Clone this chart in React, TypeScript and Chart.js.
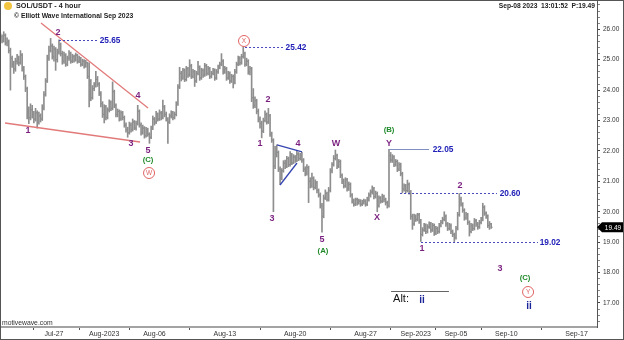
import { useEffect, useRef } from 'react';
import { Chart, registerables } from 'chart.js';

Chart.register(...registerables);

const FONT = '"Liberation Sans", Arial, sans-serif';

// ---- time axis (days counted from Jul-27 00:00) ----
const firstBarDay = -5 - 1 / 3; // Jul-21 16:00
const barHours = 4;
const xMinDay = -5.37;
const xMaxDay = 54.03;
const xTickDays = [-4, 0, 5, 10, 17, 24, 31, 36, 40, 45, 52];
const xTickLabels = ['', 'Jul-27', 'Aug-2023', 'Aug-06', 'Aug-13', 'Aug-20', 'Aug-27', 'Sep-2023', 'Sep-05', 'Sep-10', 'Sep-17'];

// ---- price axis ----
const yMinPrice = 16.21;
const yMaxPrice = 26.963;
const yMajorTicks = [17, 18, 19, 20, 21, 22, 23, 24, 25, 26];

// ---- SOL/USDT 4-hour OHLC ----
const opens = [
  25.70,25.75,25.62,25.80,25.55,25.60,25.30,25.05,24.85,24.70,
  24.95,25.05,24.90,25.15,24.70,24.45,24.05,23.30,23.10,23.35,
  23.20,23.05,23.25,22.95,23.15,23.05,23.40,23.85,24.30,25.05,
  25.30,25.45,25.10,25.35,25.00,25.25,25.50,25.20,24.95,25.15,
  24.85,25.05,25.20,24.95,25.10,25.00,25.15,24.95,25.05,24.85,
  24.95,24.80,24.90,24.45,24.30,23.75,24.05,24.15,24.35,24.20,
  23.90,23.55,23.20,23.45,23.10,23.35,23.60,23.40,23.95,23.50,
  23.20,23.30,23.05,23.25,23.10,22.85,22.70,22.60,22.85,22.70,
  22.95,22.75,22.90,23.30,22.85,22.60,22.75,22.50,22.70,22.55,
  22.45,22.75,23.05,22.95,23.20,23.05,23.25,23.10,23.45,23.20,
  23.05,22.95,23.15,23.25,23.10,23.20,23.55,24.10,24.55,24.40,
  24.65,24.35,24.70,24.50,24.80,24.45,24.60,24.30,24.55,24.75,
  24.40,24.65,24.50,24.80,24.55,24.70,24.45,24.55,24.65,24.40,
  24.60,24.75,24.85,24.95,24.60,24.70,24.40,24.55,24.30,24.45,
  24.25,24.60,24.85,25.05,24.90,25.10,25.20,24.85,24.95,24.60,
  24.70,23.75,23.50,23.65,23.30,23.05,22.90,22.65,23.00,23.20,
  22.95,23.15,22.55,22.35,21.50,21.90,21.95,21.40,21.10,21.35,
  21.60,21.50,21.75,21.55,21.85,21.60,21.80,21.70,21.90,21.75,
  21.85,21.70,21.40,21.25,21.45,21.00,20.85,21.10,20.80,20.95,
  20.70,20.55,20.20,19.85,20.45,20.60,20.40,20.70,21.35,21.55,
  21.75,21.85,21.50,21.65,21.20,21.00,20.85,21.05,20.75,20.90,
  20.55,20.35,20.25,20.40,20.30,20.35,20.25,20.30,20.35,20.25,
  20.40,20.55,20.65,20.75,20.50,20.60,20.20,20.45,20.35,20.50,
  20.40,20.30,20.20,21.85,21.70,21.80,21.55,21.65,21.40,21.55,
  21.25,20.75,20.85,20.70,20.90,20.65,19.85,19.60,19.85,19.75,
  19.90,19.70,19.25,19.40,19.55,19.35,19.50,19.60,19.40,19.55,
  19.30,19.45,19.35,19.55,19.65,19.75,19.85,19.60,19.45,19.55,
  19.35,19.25,19.15,19.45,19.90,20.40,20.25,20.05,19.80,19.90,
  19.65,19.35,19.55,19.45,19.70,19.60,19.50,19.65,19.75,20.15,
  19.95,19.85,19.55,19.60,
];
const highs = [
  25.88,25.82,25.92,25.85,25.72,25.65,25.38,25.12,24.95,25.05,
  25.18,25.12,25.30,25.20,24.78,24.50,24.10,23.45,23.55,23.50,
  23.30,23.40,23.32,23.28,23.22,23.52,23.95,24.38,25.15,25.45,
  25.70,25.52,25.45,25.40,25.35,25.65,25.55,25.28,25.25,25.20,
  25.12,25.30,25.25,25.18,25.15,25.22,25.18,25.12,25.08,25.02,
  25.00,24.98,24.92,24.90,24.35,24.15,24.25,24.62,24.45,24.25,
  23.95,23.62,23.52,23.50,23.42,23.68,23.65,24.27,24.00,23.55,
  23.38,23.35,23.32,23.30,23.15,22.92,22.78,22.95,22.92,23.05,
  23.00,22.98,23.50,23.35,22.92,22.85,22.80,22.78,22.75,22.60,
  22.82,23.15,23.10,23.30,23.25,23.35,23.30,23.67,23.50,23.28,
  23.10,23.22,23.32,23.30,23.28,23.62,24.18,24.75,24.62,24.72,
  24.70,24.78,24.75,25.00,24.85,24.68,24.65,24.62,24.95,24.80,
  24.72,24.70,24.88,24.85,24.78,24.75,24.62,24.72,24.70,24.68,
  24.82,24.92,25.20,25.00,24.78,24.75,24.62,24.60,24.52,24.50,
  24.68,24.92,25.12,25.10,25.18,25.42,25.25,25.05,25.00,24.78,
  24.75,24.05,23.78,23.70,23.38,23.12,22.98,23.08,23.32,23.25,
  23.40,23.20,22.62,22.40,22.15,22.20,22.00,21.48,21.42,21.68,
  21.70,21.82,21.80,21.98,21.92,21.88,21.85,22.00,21.95,21.92,
  21.95,21.75,21.48,21.55,21.50,21.12,21.27,21.15,21.05,21.00,
  20.75,20.62,20.28,20.55,20.72,20.65,20.80,21.42,21.62,21.85,
  22.03,21.90,21.72,21.70,21.25,21.08,21.12,21.10,20.98,20.95,
  20.60,20.42,20.45,20.45,20.42,20.40,20.38,20.42,20.40,20.48,
  20.62,20.72,20.85,20.80,20.68,20.65,20.52,20.50,20.58,20.55,
  20.45,20.35,22.05,21.95,21.88,21.85,21.72,21.70,21.62,21.60,
  21.30,20.92,20.90,21.04,20.95,20.70,19.92,19.92,19.90,19.95,
  19.95,19.75,19.48,19.62,19.60,19.58,19.67,19.65,19.62,19.60,
  19.52,19.50,19.62,19.72,19.82,20.00,19.90,19.65,19.62,19.60,
  19.40,19.30,19.52,19.98,20.60,20.48,20.30,20.10,19.98,19.95,
  19.70,19.62,19.60,19.78,19.75,19.65,19.72,19.82,20.28,20.20,
  20.00,19.90,19.68,19.62,
];
const lows = [
  25.62,25.55,25.58,25.48,25.45,25.22,24.00,24.75,24.55,24.62,
  24.85,24.80,24.85,24.62,24.35,23.95,23.05,22.90,23.02,23.08,
  22.92,22.98,22.75,22.88,22.95,23.00,23.35,23.80,24.25,24.98,
  25.25,25.02,24.95,24.65,24.92,25.18,25.12,24.85,24.88,24.78,
  24.80,24.98,24.88,24.90,24.92,24.95,24.88,24.90,24.78,24.80,
  24.72,24.75,24.38,23.45,23.65,23.70,23.98,24.10,24.12,23.82,
  23.45,23.10,22.92,23.02,23.05,23.28,23.32,23.35,23.42,23.12,
  23.12,22.98,23.00,23.02,22.78,22.62,22.45,22.55,22.62,22.65,
  22.70,22.68,22.85,22.78,22.52,22.55,22.42,22.45,22.48,22.25,
  22.40,22.70,22.85,22.90,22.98,23.00,23.02,23.05,23.12,22.98,
  22.25,22.90,23.08,23.02,23.05,23.15,23.50,24.05,24.30,24.35,
  24.28,24.30,24.42,24.45,24.38,24.40,24.12,24.25,24.50,24.32,
  24.35,24.42,24.45,24.48,24.50,24.38,24.40,24.50,24.32,24.35,
  24.55,24.70,24.80,24.52,24.55,24.32,24.35,24.22,24.25,24.07,
  24.20,24.55,24.80,24.82,24.85,25.05,24.78,24.80,24.52,24.50,
  23.62,23.40,23.42,23.22,22.95,22.75,22.43,22.60,22.95,22.88,
  22.90,22.48,22.28,20.00,21.42,21.80,21.32,20.90,21.05,21.30,
  21.42,21.45,21.48,21.50,21.55,21.58,21.62,21.65,21.68,21.70,
  21.62,21.32,21.18,21.20,20.30,20.78,20.80,20.72,20.75,20.62,
  20.48,20.12,19.33,19.80,20.40,20.35,20.35,20.65,21.28,21.50,
  21.70,21.42,21.45,21.12,20.92,20.78,20.80,20.68,20.70,20.48,
  20.28,20.18,20.20,20.22,20.25,20.18,20.20,20.25,20.18,20.20,
  20.35,20.48,20.58,20.42,20.45,20.00,20.15,20.28,20.30,20.32,
  20.22,20.12,20.15,21.62,21.62,21.48,21.50,21.32,21.35,21.18,
  20.62,20.68,20.62,20.65,20.58,19.75,19.42,19.55,19.68,19.70,
  19.62,19.02,19.20,19.35,19.28,19.30,19.45,19.32,19.35,19.22,
  19.25,19.28,19.30,19.50,19.60,19.70,19.52,19.38,19.40,19.28,
  19.18,19.02,19.10,19.40,19.85,20.18,19.98,19.72,19.75,19.58,
  19.20,19.30,19.38,19.40,19.52,19.42,19.45,19.60,19.70,19.88,
  19.78,19.48,19.42,19.45,
];
const closes = [
  25.75,25.62,25.80,25.55,25.60,25.30,25.05,24.85,24.70,24.95,
  25.05,24.90,25.15,24.70,24.45,24.05,23.30,23.10,23.35,23.20,
  23.05,23.25,22.95,23.15,23.05,23.40,23.85,24.30,25.05,25.30,
  25.45,25.10,25.35,25.00,25.25,25.50,25.20,24.95,25.15,24.85,
  25.05,25.20,24.95,25.10,25.00,25.15,24.95,25.05,24.85,24.95,
  24.80,24.90,24.45,24.30,23.75,24.05,24.15,24.35,24.20,23.90,
  23.55,23.20,23.45,23.10,23.35,23.60,23.40,23.95,23.50,23.20,
  23.30,23.05,23.25,23.10,22.85,22.70,22.60,22.85,22.70,22.95,
  22.75,22.90,23.30,22.85,22.60,22.75,22.50,22.70,22.55,22.45,
  22.75,23.05,22.95,23.20,23.05,23.25,23.10,23.45,23.20,23.05,
  22.95,23.15,23.25,23.10,23.20,23.55,24.10,24.55,24.40,24.65,
  24.35,24.70,24.50,24.80,24.45,24.60,24.30,24.55,24.75,24.40,
  24.65,24.50,24.80,24.55,24.70,24.45,24.55,24.65,24.40,24.60,
  24.75,24.85,24.95,24.60,24.70,24.40,24.55,24.30,24.45,24.25,
  24.60,24.85,25.05,24.90,25.10,25.20,24.85,24.95,24.60,24.70,
  23.75,23.50,23.65,23.30,23.05,22.90,22.65,23.00,23.20,22.95,
  23.15,22.55,22.35,21.50,21.90,21.95,21.40,21.10,21.35,21.60,
  21.50,21.75,21.55,21.85,21.60,21.80,21.70,21.90,21.75,21.85,
  21.70,21.40,21.25,21.45,21.00,20.85,21.10,20.80,20.95,20.70,
  20.55,20.20,19.85,20.45,20.60,20.40,20.70,21.35,21.55,21.75,
  21.85,21.50,21.65,21.20,21.00,20.85,21.05,20.75,20.90,20.55,
  20.35,20.25,20.40,20.30,20.35,20.25,20.30,20.35,20.25,20.40,
  20.55,20.65,20.75,20.50,20.60,20.20,20.45,20.35,20.50,20.40,
  20.30,20.20,21.85,21.70,21.80,21.55,21.65,21.40,21.55,21.25,
  20.75,20.85,20.70,20.90,20.65,19.85,19.60,19.85,19.75,19.90,
  19.70,19.25,19.40,19.55,19.35,19.50,19.60,19.40,19.55,19.30,
  19.45,19.35,19.55,19.65,19.75,19.85,19.60,19.45,19.55,19.35,
  19.25,19.15,19.45,19.90,20.40,20.25,20.05,19.80,19.90,19.65,
  19.35,19.55,19.45,19.70,19.60,19.50,19.65,19.75,20.15,19.95,
  19.85,19.55,19.60,19.49,
];

// ---- Elliott wave annotations (day, price) ----
const purpleLabels = [
  { text: '1', day: -2.58, price: 22.655 },
  { text: '2', day: 0.4, price: 25.878 },
  { text: '3', day: 7.66, price: 22.228 },
  { text: '4', day: 8.36, price: 23.806 },
  { text: '5', day: 9.36, price: 21.998 },
  { text: '1', day: 20.5, price: 22.228 },
  { text: '2', day: 21.3, price: 23.675 },
  { text: '3', day: 21.69, price: 19.761 },
  { text: '4', day: 24.28, price: 22.228 },
  { text: '5', day: 26.67, price: 19.103 },
  { text: 'W', day: 28.06, price: 22.26 },
  { text: 'X', day: 32.14, price: 19.794 },
  { text: 'Y', day: 33.34, price: 22.26 },
  { text: '1', day: 36.62, price: 18.775 },
  { text: '2', day: 40.4, price: 20.847 },
  { text: '3', day: 44.38, price: 18.117 },
];
const greenLabels = [
  { text: '(C)', day: 9.36, price: 21.7 },
  { text: '(A)', day: 26.77, price: 18.709 },
  { text: '(B)', day: 33.34, price: 22.688 },
  { text: '(C)', day: 46.87, price: 17.821 },
];
const circleLabels = [
  { text: 'W', day: 9.46, price: 21.274 },
  { text: 'X', day: 18.91, price: 25.615 },
  { text: 'Y', day: 47.17, price: 17.361 },
];
const blueLabels = [
  { text: 'ii', day: 47.27, price: 16.9 },
  { text: 'ii', day: 36.62, price: 17.098 },
];
const priceLevels = [
  { level: 25.65, from: 0.5, to: 4.28, labelDay: 5.58, dashed: true },
  { level: 25.42, from: 19.01, to: 22.79, labelDay: 24.08, dashed: true },
  { level: 22.05, from: 33.34, to: 37.32, labelDay: 38.71, dashed: false },
  { level: 20.6, from: 34.43, to: 44.08, labelDay: 45.38, dashed: true },
  { level: 19.02, from: 36.52, to: 48.16, labelDay: 49.36, dashed: true },
];
const redTrendLines = [
  [[-1.29, 26.207], [9.36, 23.411]],
  [[-4.87, 22.918], [8.56, 22.293]],
];
const blueTriangleLines = [
  [[22.19, 22.195], [24.68, 21.965]],
  [[22.49, 20.879], [24.18, 21.603]],
];
const altLabel = { text: 'Alt:', day: 34.53, price: 17.13, lineFrom: 33.54, lineTo: 39.3, linePrice: 17.394 };

const barDays = closes.map((_, i) => firstBarDay + (i * barHours) / 24);
const yTickValues: number[] = [];
for (let k = 82; k <= 134; k++) yTickValues.push(k / 5);

const BAR_COLOR = '#8e8e8e';
const PURPLE = '#7a1f7f';
const GREEN = '#1f8a2a';
const BLUE = '#2222b8';
const RED = '#e06262';

const ewPlugin = {
  id: 'ewDraw',
  afterDatasetsDraw(chart: any) {
    const { ctx, chartArea, scales } = chart;
    const x = scales.x;
    const y = scales.y;
    const px = (d: number) => x.getPixelForValue(d);
    const py = (p: number) => y.getPixelForValue(p);
    ctx.save();
    ctx.beginPath();
    ctx.rect(chartArea.left, chartArea.top, chartArea.right - chartArea.left, chartArea.bottom - chartArea.top);
    ctx.clip();

    // open / close ticks
    ctx.fillStyle = BAR_COLOR;
    for (let i = 0; i < closes.length; i++) {
      const cx = px(barDays[i]);
      ctx.fillRect(cx - 1.5, py(opens[i]) - 0.5, 1.2, 1);
      ctx.fillRect(cx + 0.3, py(closes[i]) - 0.5, 1.2, 1);
    }

    // trend lines
    const drawSeg = (seg: number[][], color: string, w: number) => {
      ctx.strokeStyle = color;
      ctx.lineWidth = w;
      ctx.setLineDash([]);
      ctx.beginPath();
      ctx.moveTo(px(seg[0][0]), py(seg[0][1]));
      ctx.lineTo(px(seg[1][0]), py(seg[1][1]));
      ctx.stroke();
    };
    redTrendLines.forEach((s) => drawSeg(s, '#e27a7a', 1.3));
    blueTriangleLines.forEach((s) => drawSeg(s, '#3545b0', 1.3));

    // price levels
    ctx.textAlign = 'center';
    ctx.textBaseline = 'middle';
    priceLevels.forEach((lv) => {
      const yy = Math.round(py(lv.level)) + 0.5;
      ctx.strokeStyle = lv.dashed ? '#4a4ac0' : '#7f8fc0';
      ctx.lineWidth = 1;
      ctx.setLineDash(lv.dashed ? [2, 2] : []);
      ctx.beginPath();
      ctx.moveTo(px(lv.from), yy);
      ctx.lineTo(px(lv.to), yy);
      ctx.stroke();
      ctx.setLineDash([]);
      ctx.fillStyle = BLUE;
      ctx.font = `bold 8.3px ${FONT}`;
      ctx.fillText(lv.level.toFixed(2), px(lv.labelDay), yy);
    });

    // wave labels
    ctx.font = `bold 9px ${FONT}`;
    ctx.fillStyle = PURPLE;
    purpleLabels.forEach((l) => ctx.fillText(l.text, px(l.day), py(l.price)));
    ctx.font = `bold 7.8px ${FONT}`;
    ctx.fillStyle = GREEN;
    greenLabels.forEach((l) => ctx.fillText(l.text, px(l.day), py(l.price)));
    circleLabels.forEach((l) => {
      const cx = px(l.day);
      const cy = py(l.price);
      ctx.strokeStyle = RED;
      ctx.lineWidth = 1;
      ctx.beginPath();
      ctx.arc(cx, cy, 5.5, 0, Math.PI * 2);
      ctx.stroke();
      ctx.fillStyle = RED;
      ctx.font = `6.5px ${FONT}`;
      ctx.fillText(l.text, cx, cy + 0.5);
    });
    ctx.font = `bold 10px ${FONT}`;
    ctx.fillStyle = '#1a2499';
    blueLabels.forEach((l) => ctx.fillText(l.text, px(l.day), py(l.price)));

    // Alt
    ctx.strokeStyle = '#666';
    ctx.lineWidth = 1;
    ctx.beginPath();
    const ay = Math.round(py(altLabel.linePrice)) + 0.5;
    ctx.moveTo(px(altLabel.lineFrom), ay);
    ctx.lineTo(px(altLabel.lineTo), ay);
    ctx.stroke();
    ctx.fillStyle = '#111';
    ctx.font = `11px ${FONT}`;
    ctx.fillText(altLabel.text, px(altLabel.day), py(altLabel.price));

    ctx.restore();
  },
  afterDraw(chart: any) {
    const { ctx, scales } = chart;
    const y = scales.y;
    ctx.save();
    // header texts
    ctx.fillStyle = '#f3c440';
    ctx.beginPath();
    ctx.arc(8, 6, 4, 0, Math.PI * 2);
    ctx.fill();
    ctx.fillStyle = '#222';
    ctx.textBaseline = 'middle';
    ctx.textAlign = 'left';
    ctx.font = `bold 7.2px ${FONT}`;
    ctx.fillText('SOL/USDT - 4 hour', 16, 6.5);
    ctx.font = `bold 6.8px ${FONT}`;
    ctx.fillText('\u00A9 Elliott Wave International Sep 2023', 14, 16);
    const last = closes[closes.length - 1];
    ctx.textAlign = 'right';
    ctx.font = `bold 6.7px ${FONT}`;
    ctx.fillText(`Sep-08 2023  13:01:52  P:${last.toFixed(2)}`, 595, 6);
    ctx.textAlign = 'left';
    ctx.font = `6.8px ${FONT}`;
    ctx.fillStyle = '#333';
    ctx.fillText('motivewave.com', 2, 323);

    // last price tag
    const ty = y.getPixelForValue(last);
    const ax = chart.chartArea.right;
    ctx.fillStyle = '#000';
    ctx.beginPath();
    ctx.moveTo(ax, ty);
    ctx.lineTo(ax + 5, ty - 5);
    ctx.lineTo(624, ty - 5);
    ctx.lineTo(624, ty + 5);
    ctx.lineTo(ax + 5, ty + 5);
    ctx.closePath();
    ctx.fill();
    ctx.fillStyle = '#fff';
    ctx.textAlign = 'center';
    ctx.font = `6.5px ${FONT}`;
    ctx.fillText(last.toFixed(2), ax + 16, ty + 0.5);

    // frame
    ctx.strokeStyle = '#555';
    ctx.lineWidth = 1;
    ctx.strokeRect(0.5, 0.5, 623, 339);
    ctx.restore();
  },
};

export default function App() {
  const canvasRef = useRef<HTMLCanvasElement | null>(null);

  useEffect(() => {
    const canvas = canvasRef.current;
    if (!canvas) return;
    const chart = new Chart(canvas, {
      type: 'bar',
      data: {
        datasets: [
          {
            data: barDays.map((d, i) => ({ x: d, y: [lows[i], highs[i]] })) as any,
            backgroundColor: BAR_COLOR,
            borderWidth: 0,
            barThickness: 1,
          },
        ],
      },
      options: {
        animation: false,
        responsive: false,
        maintainAspectRatio: false,
        devicePixelRatio: 1,
        layout: { padding: 0 },
        events: [],
        plugins: {
          legend: { display: false },
          tooltip: { enabled: false },
          title: { display: false },
        },
        scales: {
          x: {
            type: 'linear',
            min: xMinDay,
            max: xMaxDay,
            offset: false,
            afterBuildTicks: (s: any) => {
              s.ticks = xTickDays.map((v) => ({ value: v }));
            },
            afterFit: (s: any) => {
              s.height = 13;
              s.paddingLeft = 0;
              s.paddingRight = 0;
            },
            ticks: {
              autoSkip: false,
              maxRotation: 0,
              padding: 0,
              color: '#333',
              font: { size: 7, family: FONT },
              callback: (v: any) => {
                const k = xTickDays.indexOf(Number(v));
                return k >= 0 ? xTickLabels[k] : '';
              },
            },
            grid: { drawOnChartArea: false, drawTicks: true, tickLength: 3, tickColor: '#555' },
            border: { color: '#a3a3a3', width: 2 },
          },
          y: {
            type: 'linear',
            position: 'right',
            min: yMinPrice,
            max: yMaxPrice,
            afterBuildTicks: (s: any) => {
              s.ticks = yTickValues.map((v) => ({ value: v }));
            },
            afterFit: (s: any) => {
              s.width = 27;
              s.paddingTop = 0;
              s.paddingBottom = 0;
            },
            ticks: {
              autoSkip: false,
              padding: 3,
              color: '#333',
              font: { size: 6.5, family: FONT },
              callback: (v: any) => (yMajorTicks.includes(Number(v)) ? Number(v).toFixed(2) : ''),
            },
            grid: {
              drawOnChartArea: false,
              drawTicks: true,
              tickLength: 3,
              tickColor: (c: any) => (yMajorTicks.includes(c.tick?.value) ? '#444' : '#888'),
            },
            border: { color: '#555', width: 1 },
          },
        },
      } as any,
      plugins: [ewPlugin],
    });
    return () => chart.destroy();
  }, []);

  return (
    <div style={{ position: 'absolute', left: 0, top: 0, width: 624, height: 340, background: '#fff' }}>
      <canvas ref={canvasRef} width={624} height={340} style={{ display: 'block', width: 624, height: 340 }} />
    </div>
  );
}
